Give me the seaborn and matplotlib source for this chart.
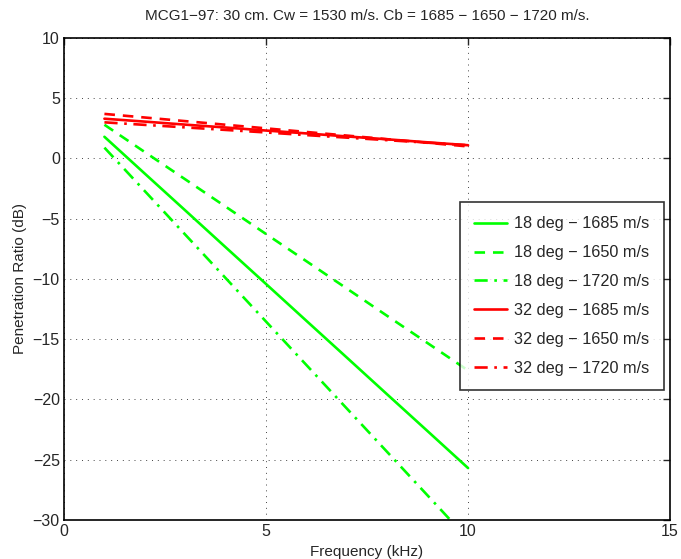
import pandas as pd
import matplotlib
matplotlib.use('Agg')
import matplotlib.pyplot as plt
import seaborn as sns

# Frequencies (kHz) and penetration ratio (dB)
freq = [1, 2, 3, 4, 5, 6, 7, 8, 9, 10]
g18_1685 = [1.8, -1.26, -4.31, -7.37, -10.42, -13.48, -16.53, -19.59, -22.64, -25.7]
g18_1650 = [2.8, 0.53, -1.73, -4.0, -6.27, -8.53, -10.8, -13.07, -15.33, -17.6]
g18_1720 = [0.9, -2.71, -6.32, -9.93, -13.54, -17.15, -20.76, -24.37, -27.98, -31.6]
r32_1685 = [3.3, 3.06, 2.81, 2.57, 2.32, 2.08, 1.83, 1.59, 1.34, 1.1]
r32_1650 = [3.7, 3.4, 3.1, 2.8, 2.5, 2.2, 1.9, 1.6, 1.3, 1.0]
r32_1720 = [3.0, 2.79, 2.58, 2.37, 2.16, 1.94, 1.73, 1.52, 1.31, 1.1]

labels = ['18 deg \u2212 1685 m/s', '18 deg \u2212 1650 m/s', '18 deg \u2212 1720 m/s',
          '32 deg \u2212 1685 m/s', '32 deg \u2212 1650 m/s', '32 deg \u2212 1720 m/s']
series = [g18_1685, g18_1650, g18_1720, r32_1685, r32_1650, r32_1720]
colors = ['#00ff00'] * 3 + ['#ff0000'] * 3
styles = ['-', (0, (4, 3)), (0, (5, 2.5, 1, 2.5))] * 2

sns.set_style('white')
plt.rcParams['font.family'] = ['Liberation Sans', 'DejaVu Sans']

df = pd.concat([pd.DataFrame({'Frequency': freq, 'Ratio': v, 'Series': lab})
                for v, lab in zip(series, labels)])

fig = plt.figure(figsize=(6.81, 5.59), dpi=100)
ax = fig.add_axes([0.094, 0.070, 0.890, 0.862])

for lab, col, ls in zip(labels, colors, styles):
    sns.lineplot(data=df[df['Series'] == lab], x='Frequency', y='Ratio',
                 color=col, linestyle=ls, linewidth=1.9, label=lab, ax=ax)

ax.set_xlim(0, 15)
ax.set_ylim(-30, 10)
ax.set_xticks([0, 5, 10, 15])
ax.set_yticks(range(-30, 11, 5))
ax.grid(True, linestyle=(0, (1, 5)), color='#444444', linewidth=0.7)
ax.tick_params(direction='in', top=True, right=True, length=5, width=1.0,
               labelsize=11.5, pad=3)
for s in ax.spines.values():
    s.set_color('black')
    s.set_linewidth(1.2)

ax.set_xlabel('Frequency (kHz)', fontsize=11, labelpad=4)
ax.set_ylabel('Penetration Ratio (dB)', fontsize=11, labelpad=4)
ax.set_title('MCG1\u221297: 30 cm. Cw = 1530 m/s. Cb = 1685 \u2212 1650 \u2212 1720 m/s.',
             fontsize=11, pad=13)

leg = ax.legend(loc='upper right', bbox_to_anchor=(0.990, 0.660), borderaxespad=0,
                fontsize=11.7, frameon=True, fancybox=False, edgecolor='black',
                handlelength=2.0, handletextpad=0.45, labelspacing=0.85,
                borderpad=0.9)
leg.get_frame().set_linewidth(1.2)

plt.savefig('out.png', dpi=100)
